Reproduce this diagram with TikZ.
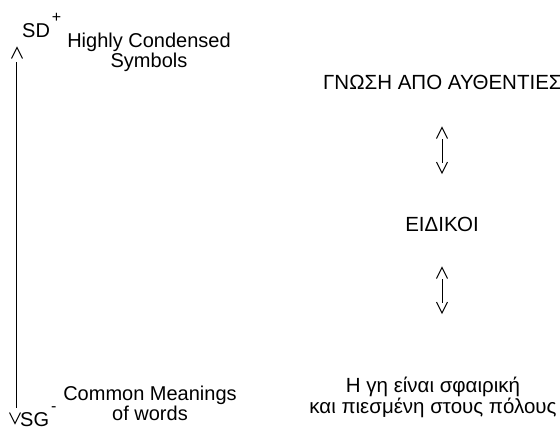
\documentclass[tikz,border=0pt]{standalone}
\usepackage{fontspec}
\setmainfont{Liberation Sans}
\begin{document}
\begin{tikzpicture}[x=1pt,y=-1pt,
  txt/.style={inner sep=0pt,font=\fontsize{20}{20}\selectfont},
  rtxt/.style={inner sep=0pt,font=\fontsize{20.5}{21}\selectfont},
  txtc/.style={txt,align=center},
  rtxtc/.style={rtxt,align=center},
  conn/.style={line width=1pt,black},
  upchev/.pic={\draw[line width=1.1pt,line join=miter] (-5.5,5.5) -- (0,-5.5) -- (5.5,5.5);},
  downchev/.pic={\draw[line width=1.1pt,line join=miter] (-5.5,-5.5) -- (0,5.5) -- (5.5,-5.5);}]
\useasboundingbox (0,0) rectangle (560,429);
% left scale
\node[txt,anchor=base west] (sd) at (22,37) {SD\hspace{2pt}\raisebox{14.5pt}{\fontsize{16}{16}\selectfont +}};
\node[txt,anchor=base west] (sg) at (20,426) {SG\hspace{2pt}\raisebox{14.5pt}{\fontsize{16}{16}\selectfont -}};
\node[txtc,anchor=base] (hc) at (149,67) {Highly Condensed\\Symbols};
\node[txtc,anchor=base] (cm) at (150,420) {Common Meanings\\of words};
\coordinate (ltop) at (16.5,62);
\coordinate (lbot) at (16.5,408);
\draw[conn] (ltop) -- (lbot);
\pic at (17,53) {upchev};
\pic at (15,418) {downchev};
% right column
\node[rtxt,anchor=base west] (gn) at (323,89) {ΓΝΩΣΗ ΑΠΟ ΑΥΘΕΝΤΙΕΣ};
\node[rtxt,anchor=base] (ei) at (442,231) {ΕΙΔΙΚΟΙ};
\node[rtxtc,anchor=base] (gi) at (433,413) {Η γη είναι σφαιρική\\και πιεσμένη στους πόλους};
\coordinate (a1t) at (442,139);
\coordinate (a1b) at (442,163);
\draw[conn] (a1t) -- (a1b);
\pic at (442,133) {upchev};
\pic at (442,167.5) {downchev};
\coordinate (a2t) at (442,279);
\coordinate (a2b) at (442,303);
\draw[conn] (a2t) -- (a2b);
\pic at (442,273) {upchev};
\pic at (442,307.5) {downchev};
\end{tikzpicture}
\end{document}
